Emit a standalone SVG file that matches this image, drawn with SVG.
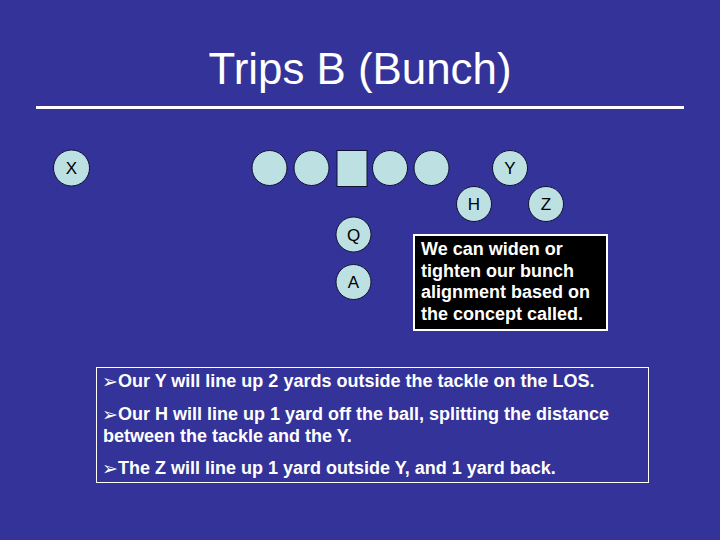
<svg xmlns="http://www.w3.org/2000/svg" width="720" height="540" viewBox="0 0 720 540">
<style>
.p{fill:#BDE0E3;stroke:#111133;stroke-width:1}
.l{font-family:"Liberation Sans",Arial,sans-serif;font-size:17px;fill:#000;text-anchor:middle}
.b{font-family:"Liberation Sans",Arial,sans-serif;font-size:18px;font-weight:bold;fill:#fff}
.ar{font-family:"DejaVu Sans",sans-serif;font-size:19px;fill:#fff}
</style>
<rect width="720" height="540" fill="#333399"/>
<text x="360" y="84" font-family="Liberation Sans,Arial,sans-serif" font-size="45" fill="#fff" text-anchor="middle" textLength="303" lengthAdjust="spacingAndGlyphs">Trips B (Bunch)</text>
<line x1="36" y1="107.5" x2="684" y2="107.5" stroke="#fff" stroke-width="3"/>
<g id="X"><circle class="p" cx="71.5" cy="168" r="18"/><text class="l" x="71.5" y="174">X</text></g>
<g id="LT"><circle class="p" cx="269.5" cy="168" r="17.5"/></g>
<g id="LG"><circle class="p" cx="311.5" cy="168" r="17.5"/></g>
<g id="C"><rect class="p" x="337" y="150.5" width="30" height="36"/></g>
<g id="RG"><circle class="p" cx="390" cy="168" r="17.5"/></g>
<g id="RT"><circle class="p" cx="431.5" cy="168" r="17.5"/></g>
<g id="Y"><circle class="p" cx="510" cy="168" r="17.5"/><text class="l" x="510" y="174">Y</text></g>
<g id="H"><circle class="p" cx="474" cy="204" r="17.5"/><text class="l" x="474" y="210">H</text></g>
<g id="Z"><circle class="p" cx="546" cy="204" r="17.5"/><text class="l" x="546" y="210">Z</text></g>
<g id="Q"><circle class="p" cx="353.5" cy="234.5" r="17.5"/><text class="l" x="353.5" y="240.5">Q</text></g>
<g id="A"><circle class="p" cx="353.5" cy="282" r="17.5"/><text class="l" x="353.5" y="288">A</text></g>
<g id="note">
<rect x="414" y="235" width="193" height="95" fill="#000" stroke="#fff" stroke-width="2"/>
<text class="b"><tspan x="421" y="255">We can widen or</tspan><tspan x="421" y="277">tighten our bunch</tspan><tspan x="421" y="298">alignment based on</tspan><tspan x="421" y="320">the concept called.</tspan></text>
</g>
<g id="bullets">
<rect x="96.5" y="367.5" width="552" height="115" fill="none" stroke="#fff" stroke-width="1"/>
<text class="ar" x="102" y="388">➢</text>
<text class="b" x="118" y="387">Our Y will line up 2 yards outside the tackle on the LOS.</text>
<text class="ar" x="102" y="421">➢</text>
<text class="b" x="118" y="420">Our H will line up 1 yard off the ball, splitting the distance</text>
<text class="b" x="103" y="442">between the tackle and the Y.</text>
<text class="ar" x="102" y="475">➢</text>
<text class="b" x="118" y="474">The Z will line up 1 yard outside Y, and 1 yard back.</text>
</g>
</svg>
